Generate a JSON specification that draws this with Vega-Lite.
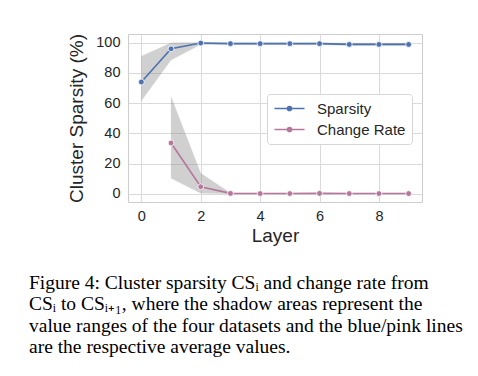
{
  "$schema": "https://vega.github.io/schema/vega-lite/v6.json",
  "width": 294,
  "height": 168,
  "autosize": {"type": "none"},
  "padding": {"left": 128, "top": 34, "right": 56, "bottom": 174},
  "background": "white",
  "title": {
    "text": ["Figure 4: Cluster sparsity CSᵢ and change rate from", "CSᵢ to CSᵢ₊₁, where the shadow areas represent the", "value ranges of the four datasets and the blue/pink lines", "are the respective average values."],
    "orient": "bottom",
    "anchor": "start",
    "frame": "group",
    "dx": -99,
    "offset": 28,
    "font": "Liberation Serif",
    "fontSize": 19.5,
    "fontWeight": "normal",
    "color": "#000000",
    "lineHeight": 21.5
  },
  "config": {
    "view": {"stroke": "#cccccc", "strokeWidth": 1}
  },
  "data": {
    "values": [
      {"layer": 0, "series": "Sparsity", "mean": 74, "lo": 61.5, "hi": 91},
      {"layer": 1, "series": "Sparsity", "mean": 96, "lo": 88.5, "hi": 100},
      {"layer": 2, "series": "Sparsity", "mean": 99.8, "lo": 98.8, "hi": 100.2},
      {"layer": 3, "series": "Sparsity", "mean": 99.4, "lo": 98.6, "hi": 100},
      {"layer": 4, "series": "Sparsity", "mean": 99.4, "lo": 98.6, "hi": 100},
      {"layer": 5, "series": "Sparsity", "mean": 99.4, "lo": 98.6, "hi": 100},
      {"layer": 6, "series": "Sparsity", "mean": 99.4, "lo": 98.6, "hi": 100},
      {"layer": 7, "series": "Sparsity", "mean": 98.9, "lo": 98.2, "hi": 99.8},
      {"layer": 8, "series": "Sparsity", "mean": 98.9, "lo": 98.2, "hi": 99.8},
      {"layer": 9, "series": "Sparsity", "mean": 98.9, "lo": 98.2, "hi": 99.8},
      {"layer": 1, "series": "Change Rate", "mean": 33.6, "lo": 10.2, "hi": 64.2},
      {"layer": 2, "series": "Change Rate", "mean": 4.6, "lo": 0.3, "hi": 13.5},
      {"layer": 3, "series": "Change Rate", "mean": 0.2, "lo": 0, "hi": 0.5},
      {"layer": 4, "series": "Change Rate", "mean": 0.1, "lo": 0, "hi": 0.3},
      {"layer": 5, "series": "Change Rate", "mean": 0.1, "lo": 0, "hi": 0.3},
      {"layer": 6, "series": "Change Rate", "mean": 0.2, "lo": 0, "hi": 0.4},
      {"layer": 7, "series": "Change Rate", "mean": 0.1, "lo": 0, "hi": 0.3},
      {"layer": 8, "series": "Change Rate", "mean": 0.1, "lo": 0, "hi": 0.3},
      {"layer": 9, "series": "Change Rate", "mean": 0.1, "lo": 0, "hi": 0.3}
    ]
  },
  "encoding": {
    "x": {
      "field": "layer",
      "type": "quantitative",
      "title": "Layer",
      "scale": {"domain": [-0.45, 9.45], "nice": false, "zero": false},
      "axis": {
        "values": [0, 2, 4, 6, 8],
        "labelPadding": 7,
        "titlePadding": 4,
        "labelFont": "Liberation Sans",
        "titleFont": "Liberation Sans",
        "labelFontSize": 14.5,
        "titleFontSize": 19,
        "titleFontWeight": "normal",
        "labelColor": "#262626",
        "titleColor": "#262626",
        "gridColor": "#dadada",
        "domain": false,
        "ticks": false,
        "labelOverlap": false
      }
    },
    "y": {
      "field": "mean",
      "type": "quantitative",
      "title": "Cluster Sparsity (%)",
      "scale": {"domain": [-5.5, 105.8], "nice": false, "zero": false},
      "axis": {
        "values": [0, 20, 40, 60, 80, 100],
        "labelPadding": 8,
        "titlePadding": 9,
        "labelFont": "Liberation Sans",
        "titleFont": "Liberation Sans",
        "labelFontSize": 14.5,
        "titleFontSize": 19,
        "titleFontWeight": "normal",
        "labelColor": "#262626",
        "titleColor": "#262626",
        "gridColor": "#dadada",
        "domain": false,
        "ticks": false,
        "labelOverlap": false
      }
    }
  },
  "layer": [
    {
      "mark": {"type": "area", "color": "#8c8c8c", "opacity": 0.4, "stroke": "#8c8c8c", "strokeOpacity": 0.3, "strokeWidth": 0.8},
      "encoding": {
        "y": {"field": "lo", "type": "quantitative"},
        "y2": {"field": "hi"},
        "detail": {"field": "series"}
      }
    },
    {
      "mark": {"type": "line", "strokeWidth": 1.6},
      "encoding": {
        "color": {
          "field": "series",
          "type": "nominal",
          "sort": ["Sparsity", "Change Rate"],
          "scale": {"domain": ["Sparsity", "Change Rate"], "range": ["#4C72B0", "#B5779B"]},
          "legend": {
            "title": null,
            "orient": "none",
            "legendX": 139,
            "legendY": 60,
            "direction": "vertical",
            "fillColor": "white",
            "strokeColor": "#d6d6d6",
            "cornerRadius": 3,
            "padding": 6,
            "rowPadding": 4,
            "labelFont": "Liberation Sans",
            "labelFontSize": 15,
            "labelColor": "#262626",
            "labelOffset": 19,
            "symbolOffset": 8,
            "symbolType": "M-2,0H2M-0.27,0a0.27,0.27 0 1,0 0.54,0a0.27,0.27 0 1,0 -0.54,0",
            "symbolSize": 225,
            "symbolStrokeWidth": 1.6,
            "encode": {
              "symbols": {"update": {"fill": {"scale": "color", "field": "value"}, "fillOpacity": {"value": 1}}}
            }
          }
        }
      }
    },
    {
      "mark": {"type": "point", "filled": true, "size": 34, "stroke": "white", "strokeWidth": 0.8, "opacity": 1},
      "encoding": {
        "color": {"field": "series", "type": "nominal", "legend": null}
      }
    }
  ]
}
